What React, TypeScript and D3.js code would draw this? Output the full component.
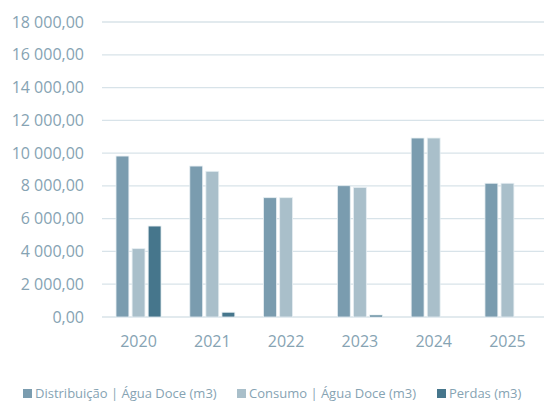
import * as d3 from "d3";
import React from "react";

// values
const years = ["2020", "2021", "2022", "2023", "2024", "2025"];
const distribuicao = [9820, 9210, 7280, 8010, 10920, 8160];
const consumo = [4170, 8890, 7280, 7910, 10920, 8160];
const perdas = [5550, 290, 0, 120, 0, 0];
const seriesNames = ["Distribuição | Água Doce (m3)", "Consumo | Água Doce (m3)", "Perdas (m3)"];
const seriesColors = ["#7a9caf", "#a9bfca", "#46768c"];
const yTicks = [0, 2000, 4000, 6000, 8000, 10000, 12000, 14000, 16000, 18000];

const WIDTH = 544;
const HEIGHT = 403;
const FONT = "'Open Sans', 'Noto Sans', sans-serif";
const TEXT = "#86a3b3";

function fmt(v: number) {
  // 18000 -> "18 000,00"
  const s = d3.format(",.2f")(v);
  return s.replace(/,/g, " ").replace(".", ",");
}

export default function App() {
  const margin = { top: 22, right: 0, bottom: 86, left: 102 };

  const x = d3
    .scaleBand<string>()
    .domain(years)
    .range([margin.left, WIDTH - margin.right])
    .paddingInner(0.39)
    .paddingOuter(0.19);

  const xs = d3
    .scaleBand<number>()
    .domain([0, 1, 2])
    .range([0, x.bandwidth()])
    .paddingInner(0.2);

  const y = d3
    .scaleLinear()
    .domain([0, 18000])
    .range([HEIGHT - margin.bottom, margin.top]);

  const series = [distribuicao, consumo, perdas];

  // legend layout
  const legendX = [23, 237, 437];

  return (
    <svg
      width={WIDTH}
      height={HEIGHT}
      style={{ position: "absolute", left: 0, top: 0, background: "#fff" }}
      fontFamily={FONT}
    >
      {/* grid + y labels */}
      <g>
        {yTicks.map((t, i) => (
          <g key={i}>
            <line
              x1={margin.left}
              x2={WIDTH}
              y1={y(t)}
              y2={y(t)}
              stroke="#d8e3e9"
              strokeWidth={1.3}
            />
            <text
              x={84}
              y={y(t)}
              dy="0.35em"
              textAnchor="end"
              fontSize={16}
              fill={TEXT}
            >
              {fmt(t)}
            </text>
          </g>
        ))}
      </g>

      {/* bars */}
      <g>
        {years.map((yr, i) => (
          <g key={yr} transform={`translate(${x(yr)},0)`}>
            {series.map((s, j) =>
              s[i] > 0 ? (
                <rect
                  key={j}
                  x={xs(j)}
                  y={y(s[i])}
                  width={xs.bandwidth()}
                  height={y(0) - y(s[i])}
                  fill={seriesColors[j]}
                  stroke="#e6eef2"
                  strokeWidth={0.8}
                />
              ) : null
            )}
          </g>
        ))}
      </g>

      {/* x labels */}
      <g>
        {years.map((yr) => (
          <text
            key={yr}
            x={(x(yr) as number) + x.bandwidth() / 2}
            y={347}
            textAnchor="middle"
            fontSize={16}
            fill={TEXT}
          >
            {yr}
          </text>
        ))}
      </g>

      {/* legend */}
      <g>
        {seriesNames.map((n, j) => (
          <g key={n} transform={`translate(${legendX[j]},389)`}>
            <rect width={9} height={9} fill={seriesColors[j]} />
            <text x={12} y={4.5} dy="0.35em" fontSize={13} fill={TEXT}>
              {n}
            </text>
          </g>
        ))}
      </g>
    </svg>
  );
}
